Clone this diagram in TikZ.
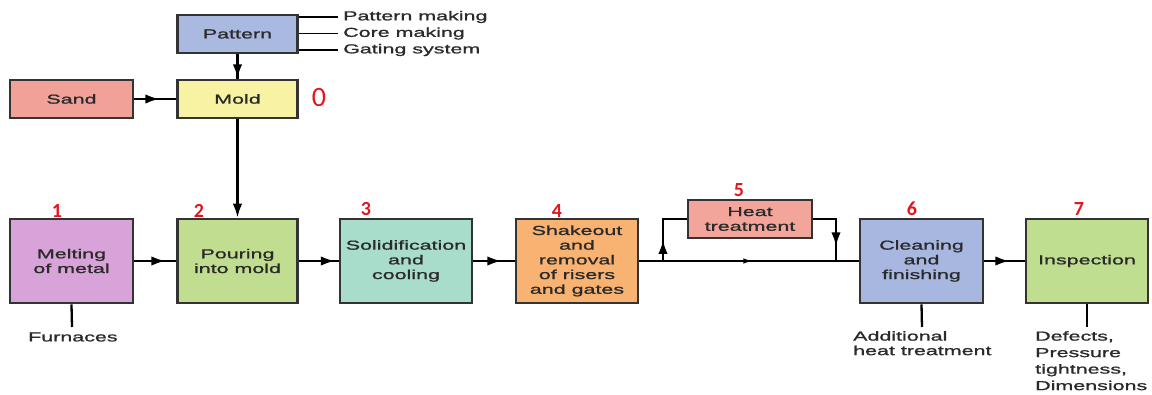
\documentclass[tikz,border=0pt]{standalone}
\usepackage{fontspec}
\setmainfont{Liberation Sans}[FakeStretch=1.65,FakeBold=1.2]
\newfontfamily\numfont{Carlito}
\usetikzlibrary{arrows.meta,decorations.markings}
\definecolor{bordc}{HTML}{333333}
\definecolor{txt}{HTML}{2A2A2A}
\definecolor{cPat}{HTML}{A9B9DF}
\definecolor{cSand}{HTML}{F2A199}
\definecolor{cMold}{HTML}{F7F3A3}
\definecolor{cMelt}{HTML}{D8A3D8}
\definecolor{cPour}{HTML}{C1DD8F}
\definecolor{cSol}{HTML}{A8DCCB}
\definecolor{cShk}{HTML}{F8B272}
\definecolor{cHeat}{HTML}{F3A59C}
\definecolor{cCln}{HTML}{A8B7E0}
\definecolor{cIns}{HTML}{C0DE8F}
\definecolor{numred}{HTML}{E3161E}
\tikzset{
  box/.style={draw=bordc, line width=2.6pt, fill=#1, inner sep=0pt, align=center,
    text=txt, font=\fontsize{13}{14.7}\selectfont},
  lbl/.style={text=txt, inner sep=0pt, align=left, font=\fontsize{13}{16.5}\selectfont},
  num/.style={text=numred, inner sep=0pt, font=\numfont\bfseries\fontsize{20}{20}\selectfont},
  conn/.style={draw=black, line width=2.3pt},
  tipm/.style={postaction={decorate}, decoration={markings,
      mark=at position #1 with {\arrow{Latex[length=14pt,width=9.5pt]}}}},
}
\begin{document}
\begin{tikzpicture}[x=1pt,y=-1pt]
\useasboundingbox (0,0) rectangle (1152,395);
\fill[white] (0,0) rectangle (1152,395);

% top nodes
\node[box=cPat, minimum width=120pt, minimum height=38pt] (pat) at (237.5,34) {Pattern};
\node[box=cSand, minimum width=123pt, minimum height=38pt] (sand) at (71.5,99) {Sand};
\node[box=cMold, minimum width=120pt, minimum height=38pt] (mold) at (237.5,99) {Mold};

% pattern labels
\node[lbl, anchor=west] (pm) at (343,17) {Pattern making};
\node[lbl, anchor=west] (cm) at (343,33.5) {Core making};
\node[lbl, anchor=west] (gs) at (343,50) {Gating system};
\draw[conn, line width=1.6pt] (pat.east |- pm) -- ([xshift=-5pt]pm.west);
\draw[conn, line width=1.6pt] (pat.east |- cm) -- ([xshift=-5pt]cm.west);
\draw[conn, line width=1.6pt] (pat.east |- gs) -- ([xshift=-5pt]gs.west);

% main row
\node[box=cMelt, minimum width=123pt, minimum height=84pt] (melt) at (71.5,261) {Melting\\of metal};
\node[box=cPour, minimum width=120pt, minimum height=84pt] (pour) at (237.5,261) {Pouring\\into mold};
\node[box=cSol, minimum width=132pt, minimum height=84pt] (sol) at (406,261) {Solidification\\and\\cooling};
\node[box=cShk, minimum width=122pt, minimum height=84pt] (shk) at (577,261) {Shakeout\\and\\removal\\of risers\\and gates};
\node[box=cHeat, minimum width=124pt, minimum height=38pt] (heat) at (750,219) {Heat\\treatment};
\node[box=cCln, minimum width=123pt, minimum height=84pt] (cln) at (921.5,261) {Cleaning\\and\\finishing};
\node[box=cIns, minimum width=122pt, minimum height=84pt] (ins) at (1087,261) {Inspection};

% numbers
\node[text=numred, inner sep=0pt, font=\numfont\fontsize{28}{28}\selectfont] (n0) at (319,98) {0};
\node[num] (n1) at (57,211) {1};
\node[num] (n2) at (199,211) {2};
\node[num] (n3) at (366,209) {3};
\node[num] (n4) at (557,211) {4};
\node[num] (n5) at (739,190) {5};
\node[num] (n6) at (912,209) {6};
\node[num] (n7) at (1079,209) {7};

% connectors
\draw[conn, tipm=24pt] (pat) -- (mold);
\draw[conn, tipm=25pt] (sand) -- (mold);
\draw[conn, -{Latex[length=14pt,width=9.5pt]}] (mold) -- (pour);
\draw[conn, tipm=31pt] (melt) -- (pour);
\draw[conn, tipm=36pt] (pour) -- (sol);
\draw[conn, tipm=28pt] (sol) -- (shk);
\draw[conn, tipm=25pt] (cln) -- (ins);
\draw[conn, postaction={decorate}, decoration={markings,
      mark=at position 114pt with {\arrow{Latex[length=10pt,width=5.5pt]}}}] (shk) -- (cln);
\coordinate (bL) at (663,261);
\coordinate (bR) at (836,261);
\draw[conn, tipm=21pt] (bL) |- (heat.west);
\draw[conn, tipm=50pt] (heat.east) -| (bR);

% bottom labels
\coordinate (fL) at (72,327);
\coordinate (cL) at (922,327);
\coordinate (iL) at (1087,327);
\draw[conn] (melt.south) -- (fL);
\draw[conn] (cln.south) -- (cL);
\draw[conn] (ins.south) -- (iL);
\node[lbl, anchor=west] (furn) at (28,337) {Furnaces};
\node[lbl, anchor=north west, font=\fontsize{13}{14.5}\selectfont] (aht) at (853,331) {Additional\\heat treatment};
\node[lbl, anchor=north west] (def) at (1035,331) {Defects,\\Pressure\\tightness,\\Dimensions};
\end{tikzpicture}
\end{document}
